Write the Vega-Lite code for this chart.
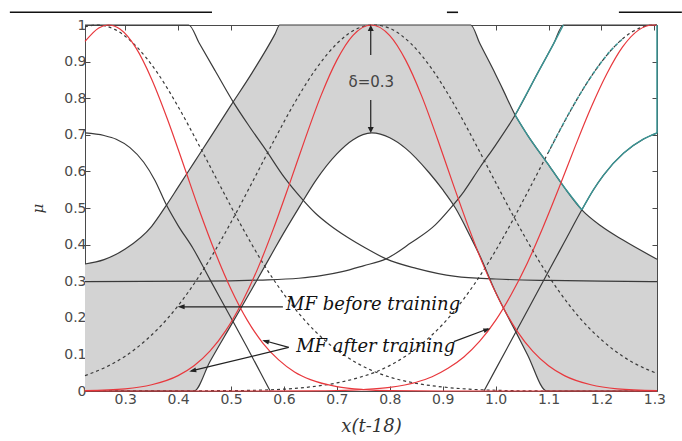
{
  "$schema": "https://vega.github.io/schema/vega-lite/v6.json",
  "width": 572,
  "height": 366,
  "autosize": {"type": "none"},
  "padding": {"left": 85, "top": 25, "right": 25, "bottom": 50},
  "background": "white",
  "config": {
    "view": {"stroke": "#4a4a4a", "strokeWidth": 1},
    "axis": {"grid": false, "domain": false, "tickColor": "#4a4a4a", "tickSize": -5, "labelFont": "DejaVu Sans", "labelFontSize": 14, "labelColor": "#4a4a4a", "labelOverlap": false},
    "axisY": {"labelOverlap": false},
    "axisLeft": {"labelOverlap": false}
  },
  "datasets": {
    "fou": [
      {"x":0.224,"hi":0.347,"lo":0},{"x":0.26,"hi":0.359,"lo":0},{"x":0.30,"hi":0.388,"lo":0},{"x":0.35,"hi":0.45,"lo":0},
      {"x":0.378,"hi":0.508,"lo":0},{"x":0.40,"hi":0.557,"lo":0},{"x":0.43,"hi":0.624,"lo":0},{"x":0.46,"hi":0.691,"lo":0.08},
      {"x":0.50,"hi":0.781,"lo":0.18},{"x":0.54,"hi":0.87,"lo":0.28},{"x":0.583,"hi":0.975,"lo":0.39},{"x":0.592,"hi":1,"lo":0.413},
      {"x":0.63,"hi":1,"lo":0.505},{"x":0.66,"hi":1,"lo":0.575},{"x":0.70,"hi":1,"lo":0.648},{"x":0.73,"hi":1,"lo":0.686},
      {"x":0.766,"hi":1,"lo":0.705},{"x":0.80,"hi":1,"lo":0.692},{"x":0.83,"hi":1,"lo":0.663},{"x":0.874,"hi":1,"lo":0.597},
      {"x":0.90,"hi":1,"lo":0.55},{"x":0.924,"hi":1,"lo":0.50},{"x":0.953,"hi":1,"lo":0.42},{"x":0.97,"hi":0.95,"lo":0.37},
      {"x":1.0,"hi":0.865,"lo":0.27},{"x":1.015,"hi":0.82,"lo":0.226},{"x":1.037,"hi":0.754,"lo":0.165},{"x":1.06,"hi":0.70,"lo":0.10},
      {"x":1.097,"hi":0.624,"lo":0},{"x":1.13,"hi":0.556,"lo":0},{"x":1.163,"hi":0.495,"lo":0},{"x":1.20,"hi":0.45,"lo":0},
      {"x":1.24,"hi":0.413,"lo":0},{"x":1.305,"hi":0.36,"lo":0}
    ],
    "curves": [
      {"s":"LU","x":0.224,"y":1},{"s":"LU","x":0.42,"y":1},{"s":"LU","x":0.44,"y":0.95},{"s":"LU","x":0.47,"y":0.875},{"s":"LU","x":0.504,"y":0.79},{"s":"LU","x":0.535,"y":0.722},{"s":"LU","x":0.566,"y":0.658},{"s":"LU","x":0.6,"y":0.585},{"s":"LU","x":0.634,"y":0.525},{"s":"LU","x":0.66,"y":0.485},{"s":"LU","x":0.685,"y":0.455},{"s":"LU","x":0.72,"y":0.42},{"s":"LU","x":0.755,"y":0.39},{"s":"LU","x":0.793,"y":0.361},{"s":"LU","x":0.85,"y":0.335},{"s":"LU","x":0.924,"y":0.313},{"s":"LU","x":1.0,"y":0.306},{"s":"LU","x":1.1,"y":0.302},{"s":"LU","x":1.2,"y":0.3},{"s":"LU","x":1.305,"y":0.299},
      {"s":"RU","x":0.224,"y":0.299},{"s":"RU","x":0.45,"y":0.3},{"s":"RU","x":0.553,"y":0.303},{"s":"RU","x":0.628,"y":0.308},{"s":"RU","x":0.67,"y":0.315},{"s":"RU","x":0.71,"y":0.326},{"s":"RU","x":0.75,"y":0.342},{"s":"RU","x":0.793,"y":0.361},{"s":"RU","x":0.84,"y":0.405},{"s":"RU","x":0.886,"y":0.454},{"s":"RU","x":0.912,"y":0.495},{"s":"RU","x":0.94,"y":0.545},{"s":"RU","x":0.97,"y":0.61},{"s":"RU","x":1.0,"y":0.672},{"s":"RU","x":1.037,"y":0.754},{"s":"RU","x":1.08,"y":0.87},{"s":"RU","x":1.11,"y":0.95},{"s":"RU","x":1.128,"y":1},{"s":"RU","x":1.305,"y":1},
      {"s":"LL","x":0.224,"y":0.705},{"s":"LL","x":0.26,"y":0.698},{"s":"LL","x":0.283,"y":0.688},{"s":"LL","x":0.309,"y":0.665},{"s":"LL","x":0.335,"y":0.625},{"s":"LL","x":0.356,"y":0.576},{"s":"LL","x":0.378,"y":0.508},{"s":"LL","x":0.40,"y":0.452},{"s":"LL","x":0.428,"y":0.39},{"s":"LL","x":0.46,"y":0.305},{"s":"LL","x":0.498,"y":0.205},{"s":"LL","x":0.53,"y":0.12},{"s":"LL","x":0.555,"y":0.052},{"s":"LL","x":0.574,"y":0},
      {"s":"RL","x":0.978,"y":0},{"s":"RL","x":1.0,"y":0.059},{"s":"RL","x":1.04,"y":0.166},{"s":"RL","x":1.097,"y":0.319},{"s":"RL","x":1.13,"y":0.407},{"s":"RL","x":1.163,"y":0.495},{"s":"RL","x":1.185,"y":0.55},{"s":"RL","x":1.204,"y":0.59},{"s":"RL","x":1.242,"y":0.65},{"s":"RL","x":1.279,"y":0.688},{"s":"RL","x":1.305,"y":0.705},
      {"s":"TU","x":1.037,"y":0.754},{"s":"TU","x":1.08,"y":0.87},{"s":"TU","x":1.11,"y":0.95},{"s":"TU","x":1.128,"y":1},
      {"s":"TM","x":1.037,"y":0.754},{"s":"TM","x":1.06,"y":0.70},{"s":"TM","x":1.097,"y":0.624},{"s":"TM","x":1.13,"y":0.556},{"s":"TM","x":1.163,"y":0.495},
      {"s":"TL","x":1.163,"y":0.495},{"s":"TL","x":1.185,"y":0.55},{"s":"TL","x":1.204,"y":0.59},{"s":"TL","x":1.242,"y":0.65},{"s":"TL","x":1.279,"y":0.688},{"s":"TL","x":1.305,"y":0.705},
      {"s":"TD","x":1.10,"y":0.653},{"s":"TD","x":1.14,"y":0.762},{"s":"TD","x":1.18,"y":0.858},{"s":"TD","x":1.22,"y":0.934},{"s":"TD","x":1.24,"y":0.962},
      {"s":"RA","x":0.224,"y":0.955},{"s":"RA","x":0.25,"y":0.992},{"s":"RA","x":0.268,"y":1},{"s":"RA","x":0.29,"y":0.989},{"s":"RA","x":0.32,"y":0.938},{"s":"RA","x":0.35,"y":0.852},{"s":"RA","x":0.38,"y":0.742},{"s":"RA","x":0.41,"y":0.619},{"s":"RA","x":0.44,"y":0.494},{"s":"RA","x":0.47,"y":0.379},{"s":"RA","x":0.50,"y":0.278},{"s":"RA","x":0.53,"y":0.195},{"s":"RA","x":0.56,"y":0.131},{"s":"RA","x":0.59,"y":0.085},{"s":"RA","x":0.62,"y":0.052},{"s":"RA","x":0.65,"y":0.031},{"s":"RA","x":0.70,"y":0.012},{"s":"RA","x":0.75,"y":0.004},{"s":"RA","x":0.80,"y":0.001},{"s":"RA","x":0.90,"y":0},{"s":"RA","x":1.305,"y":0},
      {"s":"RB","x":0.224,"y":0.001},{"s":"RB","x":0.30,"y":0.006},{"s":"RB","x":0.35,"y":0.017},{"s":"RB","x":0.40,"y":0.042},{"s":"RB","x":0.43,"y":0.069},{"s":"RB","x":0.46,"y":0.109},{"s":"RB","x":0.49,"y":0.165},{"s":"RB","x":0.52,"y":0.24},{"s":"RB","x":0.55,"y":0.333},{"s":"RB","x":0.58,"y":0.443},{"s":"RB","x":0.61,"y":0.564},{"s":"RB","x":0.64,"y":0.689},{"s":"RB","x":0.67,"y":0.807},{"s":"RB","x":0.70,"y":0.904},{"s":"RB","x":0.73,"y":0.971},{"s":"RB","x":0.765,"y":1},{"s":"RB","x":0.80,"y":0.971},{"s":"RB","x":0.83,"y":0.904},{"s":"RB","x":0.86,"y":0.807},{"s":"RB","x":0.89,"y":0.689},{"s":"RB","x":0.92,"y":0.564},{"s":"RB","x":0.95,"y":0.443},{"s":"RB","x":0.98,"y":0.333},{"s":"RB","x":1.01,"y":0.24},{"s":"RB","x":1.04,"y":0.165},{"s":"RB","x":1.07,"y":0.109},{"s":"RB","x":1.10,"y":0.069},{"s":"RB","x":1.13,"y":0.042},{"s":"RB","x":1.18,"y":0.017},{"s":"RB","x":1.23,"y":0.006},{"s":"RB","x":1.305,"y":0.001},
      {"s":"RC","x":0.224,"y":0},{"s":"RC","x":0.55,"y":0},{"s":"RC","x":0.65,"y":0.0004},{"s":"RC","x":0.70,"y":0.0013},{"s":"RC","x":0.75,"y":0.004},{"s":"RC","x":0.80,"y":0.010},{"s":"RC","x":0.85,"y":0.024},{"s":"RC","x":0.88,"y":0.039},{"s":"RC","x":0.91,"y":0.062},{"s":"RC","x":0.94,"y":0.093},{"s":"RC","x":0.97,"y":0.136},{"s":"RC","x":1.00,"y":0.193},{"s":"RC","x":1.03,"y":0.265},{"s":"RC","x":1.06,"y":0.35},{"s":"RC","x":1.09,"y":0.449},{"s":"RC","x":1.12,"y":0.556},{"s":"RC","x":1.15,"y":0.667},{"s":"RC","x":1.18,"y":0.773},{"s":"RC","x":1.21,"y":0.866},{"s":"RC","x":1.24,"y":0.94},{"s":"RC","x":1.27,"y":0.986},{"s":"RC","x":1.298,"y":1},{"s":"RC","x":1.305,"y":0.999},
      {"s":"DA","x":0.224,"y":0.995},{"s":"DA","x":0.246,"y":1},{"s":"DA","x":0.28,"y":0.988},{"s":"DA","x":0.32,"y":0.943},{"s":"DA","x":0.36,"y":0.871},{"s":"DA","x":0.40,"y":0.777},{"s":"DA","x":0.44,"y":0.67},{"s":"DA","x":0.48,"y":0.559},{"s":"DA","x":0.52,"y":0.45},{"s":"DA","x":0.56,"y":0.35},{"s":"DA","x":0.60,"y":0.264},{"s":"DA","x":0.64,"y":0.192},{"s":"DA","x":0.68,"y":0.135},{"s":"DA","x":0.72,"y":0.092},{"s":"DA","x":0.76,"y":0.06},{"s":"DA","x":0.80,"y":0.038},{"s":"DA","x":0.85,"y":0.021},{"s":"DA","x":0.90,"y":0.011},{"s":"DA","x":0.95,"y":0.005},{"s":"DA","x":1.0,"y":0.002},{"s":"DA","x":1.1,"y":0},{"s":"DA","x":1.305,"y":0},
      {"s":"DB","x":0.224,"y":0.042},{"s":"DB","x":0.26,"y":0.063},{"s":"DB","x":0.30,"y":0.095},{"s":"DB","x":0.34,"y":0.14},{"s":"DB","x":0.38,"y":0.198},{"s":"DB","x":0.42,"y":0.272},{"s":"DB","x":0.46,"y":0.36},{"s":"DB","x":0.50,"y":0.461},{"s":"DB","x":0.54,"y":0.57},{"s":"DB","x":0.58,"y":0.681},{"s":"DB","x":0.62,"y":0.787},{"s":"DB","x":0.66,"y":0.879},{"s":"DB","x":0.70,"y":0.949},{"s":"DB","x":0.74,"y":0.991},{"s":"DB","x":0.77,"y":1},{"s":"DB","x":0.80,"y":0.991},{"s":"DB","x":0.84,"y":0.949},{"s":"DB","x":0.88,"y":0.879},{"s":"DB","x":0.92,"y":0.787},{"s":"DB","x":0.96,"y":0.681},{"s":"DB","x":1.00,"y":0.57},{"s":"DB","x":1.04,"y":0.461},{"s":"DB","x":1.08,"y":0.36},{"s":"DB","x":1.12,"y":0.272},{"s":"DB","x":1.16,"y":0.198},{"s":"DB","x":1.20,"y":0.14},{"s":"DB","x":1.24,"y":0.095},{"s":"DB","x":1.28,"y":0.063},{"s":"DB","x":1.305,"y":0.048},
      {"s":"DC","x":0.224,"y":0},{"s":"DC","x":0.50,"y":0.001},{"s":"DC","x":0.60,"y":0.005},{"s":"DC","x":0.66,"y":0.013},{"s":"DC","x":0.70,"y":0.022},{"s":"DC","x":0.74,"y":0.036},{"s":"DC","x":0.78,"y":0.056},{"s":"DC","x":0.82,"y":0.086},{"s":"DC","x":0.86,"y":0.128},{"s":"DC","x":0.90,"y":0.182},{"s":"DC","x":0.94,"y":0.252},{"s":"DC","x":0.98,"y":0.336},{"s":"DC","x":1.02,"y":0.434},{"s":"DC","x":1.06,"y":0.542},{"s":"DC","x":1.10,"y":0.653},{"s":"DC","x":1.14,"y":0.762},{"s":"DC","x":1.18,"y":0.858},{"s":"DC","x":1.22,"y":0.934},{"s":"DC","x":1.26,"y":0.983},{"s":"DC","x":1.30,"y":1},{"s":"DC","x":1.305,"y":1}
    ],
    "segs": [
      {"k":"up","x":0.764,"y":0.993,"x2":0.764,"y2":0.918},
      {"k":"down","x":0.764,"y":0.795,"x2":0.764,"y2":0.712},
      {"k":"left","x":0.41,"y":0.23,"x2":0.598,"y2":0.23},
      {"k":"a1","x":0.609,"y":0.119,"x2":0.562,"y2":0.138},
      {"k":"a2","x":0.609,"y":0.119,"x2":0.425,"y2":0.055},
      {"k":"a3","x":0.921,"y":0.135,"x2":0.986,"y2":0.17}
    ],
    "heads": [
      {"k":"up","x":0.764,"y":1},
      {"k":"down","x":0.764,"y":0.705},
      {"k":"left","x":0.399,"y":0.23},
      {"k":"a1","x":0.559,"y":0.139},
      {"k":"a2","x":0.421,"y":0.053},
      {"k":"a3","x":0.99,"y":0.171}
    ],
    "notes": [
      {"k":"delta","t":"δ=0.3","x":0.765,"y":0.844},
      {"k":"mf","t":"MF before training","x":0.604,"y":0.235},
      {"k":"mf","t":"MF after training","x":0.623,"y":0.121}
    ],
    "decor": [
      {"x":0.082,"x2":0.464,"y":1.0347},
      {"x":0.908,"x2":0.929,"y":1.0347},
      {"x":1.233,"x2":1.352,"y":1.0347}
    ],
    "border": [
      {"x":1.305,"y":0.705,"y2":1}
    ]
  },
  "layer": [
    {
      "layer": [
        {
          "data": {"name": "fou"},
          "mark": {"type": "area", "fill": "#d3d3d3", "interpolate": "monotone"},
          "encoding": {
            "x": {"field": "x", "type": "quantitative", "title": "x(t-18)",
              "scale": {"domain": [0.224, 1.305], "nice": false, "zero": false},
              "axis": {"orient": "bottom", "values": [0.3,0.4,0.5,0.6,0.7,0.8,0.9,1.0,1.1,1.2,1.3], "format": ".1f", "labelPadding": 6, "titleFont": "DejaVu Serif", "titleFontStyle": "italic", "titleFontWeight": "normal", "titleFontSize": 18, "titleColor": "#333", "titlePadding": 11}},
            "y": {"field": "hi", "type": "quantitative", "title": "μ",
              "scale": {"domain": [0, 1], "nice": false, "zero": false},
              "axis": {"orient": "left", "values": [0,0.1,0.2,0.3,0.4,0.5,0.6,0.7,0.8,0.9,1], "tickCount": 11, "format": ".1~f", "labelPadding": 4, "labelOverlap": false, "labelBound": false, "labelFlush": false, "labelFontSize": 14, "titleFont": "DejaVu Serif", "titleFontStyle": "italic", "titleFontWeight": "normal", "titleFontSize": 15, "titleColor": "#333", "titlePadding": 18}},
            "y2": {"field": "lo"}
          }
        },
        {
          "data": {"name": "fou"},
          "mark": {"type": "line", "color": "#3a3a3a", "strokeWidth": 1.2, "interpolate": "monotone"},
          "encoding": {
            "x": {"field": "x", "type": "quantitative", "title": "x(t-18)"},
            "y": {"field": "hi", "type": "quantitative", "title": "μ"}
          }
        },
        {
          "data": {"name": "fou"},
          "mark": {"type": "line", "color": "#3a3a3a", "strokeWidth": 1.2, "interpolate": "monotone"},
          "encoding": {
            "x": {"field": "x", "type": "quantitative", "title": "x(t-18)"},
            "y": {"field": "lo", "type": "quantitative", "title": "μ"}
          }
        },
        {
          "data": {"name": "curves"},
          "transform": [{"filter": {"field": "s", "oneOf": ["LU", "RU", "LL", "RL"]}}],
          "mark": {"type": "line", "color": "#3a3a3a", "strokeWidth": 1.2, "interpolate": "monotone"},
          "encoding": {
            "x": {"field": "x", "type": "quantitative", "title": "x(t-18)"},
            "y": {"field": "y", "type": "quantitative", "title": "μ"},
            "detail": {"field": "s"}
          }
        },
        {
          "data": {"name": "curves"},
          "transform": [{"filter": {"field": "s", "oneOf": ["DA", "DB", "DC"]}}],
          "mark": {"type": "line", "color": "#3a3a3a", "strokeWidth": 1.2, "strokeDash": [3, 3], "interpolate": "monotone"},
          "encoding": {
            "x": {"field": "x", "type": "quantitative", "title": "x(t-18)"},
            "y": {"field": "y", "type": "quantitative", "title": "μ"},
            "detail": {"field": "s"}
          }
        },
        {
          "data": {"name": "curves"},
          "transform": [{"filter": {"field": "s", "oneOf": ["TU", "TM", "TL"]}}],
          "mark": {"type": "line", "color": "#3a9595", "strokeWidth": 1.4, "interpolate": "monotone"},
          "encoding": {
            "x": {"field": "x", "type": "quantitative", "title": "x(t-18)"},
            "y": {"field": "y", "type": "quantitative", "title": "μ"},
            "detail": {"field": "s"}
          }
        },
        {
          "data": {"name": "curves"},
          "transform": [{"filter": {"field": "s", "oneOf": ["TD"]}}],
          "mark": {"type": "line", "color": "#3a9595", "strokeWidth": 1.6, "strokeDash": [3, 3], "interpolate": "monotone"},
          "encoding": {
            "x": {"field": "x", "type": "quantitative", "title": "x(t-18)"},
            "y": {"field": "y", "type": "quantitative", "title": "μ"},
            "detail": {"field": "s"}
          }
        },
        {
          "data": {"name": "curves"},
          "transform": [{"filter": {"field": "s", "oneOf": ["RA", "RB", "RC"]}}],
          "mark": {"type": "line", "color": "#e8383d", "strokeWidth": 1.2, "interpolate": "monotone"},
          "encoding": {
            "x": {"field": "x", "type": "quantitative", "title": "x(t-18)"},
            "y": {"field": "y", "type": "quantitative", "title": "μ"},
            "detail": {"field": "s"}
          }
        },
        {
          "data": {"name": "segs"},
          "mark": {"type": "rule", "color": "#222", "strokeWidth": 1.2},
          "encoding": {
            "x": {"field": "x", "type": "quantitative", "title": "x(t-18)"},
            "y": {"field": "y", "type": "quantitative", "title": "μ"},
            "x2": {"field": "x2"},
            "y2": {"field": "y2"}
          }
        },
        {
          "data": {"name": "decor"},
          "mark": {"type": "rule", "color": "#111", "strokeWidth": 1.6, "clip": false},
          "encoding": {
            "x": {"field": "x", "type": "quantitative", "title": "x(t-18)"},
            "x2": {"field": "x2"},
            "y": {"field": "y", "type": "quantitative", "title": "μ"}
          }
        },
        {
          "data": {"name": "heads"},
          "transform": [{"filter": "datum.k == 'up'"}],
          "mark": {"type": "point", "shape": "M0,0 L-0.5,1 L0.5,1 Z", "size": 144, "filled": true, "color": "#222", "opacity": 1, "angle": 0},
          "encoding": {"x": {"field": "x", "type": "quantitative", "title": "x(t-18)"}, "y": {"field": "y", "type": "quantitative", "title": "μ"}}
        },
        {
          "data": {"name": "heads"},
          "transform": [{"filter": "datum.k == 'down'"}],
          "mark": {"type": "point", "shape": "M0,0 L-0.5,1 L0.5,1 Z", "size": 144, "filled": true, "color": "#222", "opacity": 1, "angle": 180},
          "encoding": {"x": {"field": "x", "type": "quantitative", "title": "x(t-18)"}, "y": {"field": "y", "type": "quantitative", "title": "μ"}}
        },
        {
          "data": {"name": "heads"},
          "transform": [{"filter": "datum.k == 'left'"}],
          "mark": {"type": "point", "shape": "M0,0 L-0.35,1 L0.35,1 Z", "size": 196, "filled": true, "color": "#222", "opacity": 1, "angle": 270},
          "encoding": {"x": {"field": "x", "type": "quantitative", "title": "x(t-18)"}, "y": {"field": "y", "type": "quantitative", "title": "μ"}}
        },
        {
          "data": {"name": "heads"},
          "transform": [{"filter": "datum.k == 'a1'"}],
          "mark": {"type": "point", "shape": "M0,0 L-0.35,1 L0.35,1 Z", "size": 196, "filled": true, "color": "#222", "opacity": 1, "angle": 286.5},
          "encoding": {"x": {"field": "x", "type": "quantitative", "title": "x(t-18)"}, "y": {"field": "y", "type": "quantitative", "title": "μ"}}
        },
        {
          "data": {"name": "heads"},
          "transform": [{"filter": "datum.k == 'a2'"}],
          "mark": {"type": "point", "shape": "M0,0 L-0.35,1 L0.35,1 Z", "size": 196, "filled": true, "color": "#222", "opacity": 1, "angle": 256.6},
          "encoding": {"x": {"field": "x", "type": "quantitative", "title": "x(t-18)"}, "y": {"field": "y", "type": "quantitative", "title": "μ"}}
        },
        {
          "data": {"name": "heads"},
          "transform": [{"filter": "datum.k == 'a3'"}],
          "mark": {"type": "point", "shape": "M0,0 L-0.35,1 L0.35,1 Z", "size": 196, "filled": true, "color": "#222", "opacity": 1, "angle": 70},
          "encoding": {"x": {"field": "x", "type": "quantitative", "title": "x(t-18)"}, "y": {"field": "y", "type": "quantitative", "title": "μ"}}
        },
        {
          "data": {"name": "notes"},
          "transform": [{"filter": "datum.k == 'delta'"}],
          "mark": {"type": "text", "font": "DejaVu Sans", "fontSize": 15, "color": "#444", "align": "center", "baseline": "middle"},
          "encoding": {"x": {"field": "x", "type": "quantitative", "title": "x(t-18)"}, "y": {"field": "y", "type": "quantitative", "title": "μ"}, "text": {"field": "t"}}
        },
        {
          "data": {"name": "notes"},
          "transform": [{"filter": "datum.k == 'mf'"}],
          "mark": {"type": "text", "font": "DejaVu Serif", "fontStyle": "italic", "fontSize": 18, "color": "#111", "align": "left", "baseline": "middle"},
          "encoding": {"x": {"field": "x", "type": "quantitative", "title": "x(t-18)"}, "y": {"field": "y", "type": "quantitative", "title": "μ"}, "text": {"field": "t"}}
        }
      ]
    },
    {
      "data": {"name": "border"},
      "mark": {"type": "rule", "color": "#3a9595", "strokeWidth": 1.5},
      "encoding": {
        "x": {"field": "x", "type": "quantitative", "axis": {"orient": "top", "values": [0.3,0.4,0.5,0.6,0.7,0.8,0.9,1.0,1.1,1.2,1.3], "labels": false, "title": null}},
        "y": {"field": "y", "type": "quantitative", "axis": {"orient": "right", "values": [0,0.1,0.2,0.3,0.4,0.5,0.6,0.7,0.8,0.9,1], "labels": false, "title": null}},
        "y2": {"field": "y2"}
      }
    }
  ],
  "resolve": {"axis": {"x": "independent", "y": "independent"}}
}
